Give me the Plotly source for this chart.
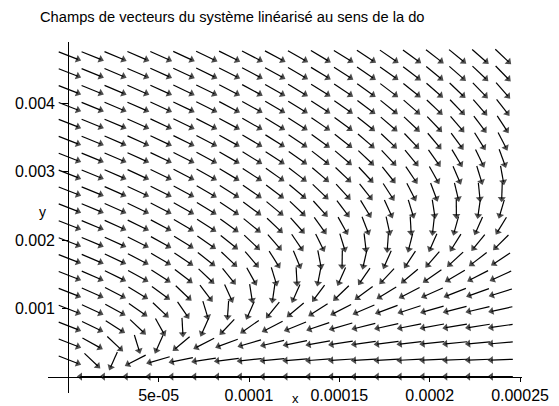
import numpy as np
import plotly.graph_objects as go

# Linearised system:  x' = a11*x + a12*y ,  y' = a22*y
a11 = -1.0
a12 = 0.087
a22 = -0.9

# Grid of arrow centres (20 x 20)
x_grid = np.linspace(0.0, 0.00024, 20)
y_grid = np.linspace(0.0, 0.0047, 20)

x_ticks = [5e-05, 0.0001, 0.00015, 0.0002, 0.00025]
x_tick_labels = ["5e-05", "0.0001", "0.00015", "0.0002", "0.00025"]
y_ticks = [0.001, 0.002, 0.003, 0.004]
y_tick_labels = ["0.001", "0.002", "0.003", "0.004"]

title_text = "Champs de vecteurs du système linéarisé au sens de la do"

# Visible window of the axes
x_min, x_max = -1.1234e-05, 2.5108e-04
y_min, y_max = -2.401e-04, 4.899e-03

hx = x_grid[1] - x_grid[0]
hy = y_grid[1] - y_grid[0]
arrow_len = 0.95  # arrow length, in grid cells

xs, ys, sizes = [], [], []
for xv in x_grid:
    for yv in y_grid:
        u = a11 * xv + a12 * yv
        v = a22 * yv
        cu, cv = u / hx, v / hy
        n = np.hypot(cu, cv)
        if n == 0:
            continue
        du = cu / n * arrow_len / 2 * hx
        dv = cv / n * arrow_len / 2 * hy
        xs += [xv - du, xv + du, None]
        ys += [yv - dv, yv + dv, None]
        sizes += [0, 7, 0]

fig = go.Figure()
fig.add_trace(go.Scatter(
    x=xs, y=ys,
    mode="lines+markers",
    line=dict(color="black", width=1.2),
    marker=dict(symbol="triangle-up", size=sizes, color="black",
                angleref="previous", line=dict(width=0)),
    hoverinfo="skip",
    showlegend=False,
))

tick_font = dict(family="Liberation Sans, Arial, sans-serif", size=16, color="black")

fig.update_layout(
    width=559, height=406,
    margin=dict(l=48, r=37, t=42, b=13),
    paper_bgcolor="white", plot_bgcolor="white",
    xaxis=dict(
        range=[x_min, x_max], anchor="free", automargin=False,
        position=(0 - y_min) / (y_max - y_min),
        showline=True, linecolor="black", linewidth=1.3,
        showgrid=False, zeroline=False,
        ticks="outside", ticklen=4, tickcolor="black", tickwidth=1,
        ticklabelstandoff=0,
        tickvals=x_ticks, ticktext=x_tick_labels, tickfont=tick_font,
    ),
    yaxis=dict(
        range=[y_min, y_max], anchor="free", automargin=False,
        position=(0 - x_min) / (x_max - x_min),
        showline=True, linecolor="black", linewidth=1.3,
        showgrid=False, zeroline=False,
        ticks="outside", ticklen=6, tickcolor="black", tickwidth=1,
        ticklabelstandoff=4,
        tickvals=y_ticks, ticktext=y_tick_labels, tickfont=tick_font,
    ),
    annotations=[
        dict(text=title_text, xref="paper", yref="paper",
             x=(232 - 48) / 474, y=1 + (42 - 17) / 351,
             xanchor="center", yanchor="middle", showarrow=False,
             font=dict(family="Liberation Sans, Arial, sans-serif",
                       size=14.7, color="black")),
        dict(text="x", xref="paper", yref="paper",
             x=(295 - 48) / 474, y=-(398 - 393) / 351,
             xanchor="center", yanchor="middle", showarrow=False,
             font=dict(family="Liberation Sans, Arial, sans-serif", size=13, color="black")),
        dict(text="y", xref="paper", yref="paper",
             x=-(48 - 42) / 474, y=(393 - 212) / 351,
             xanchor="center", yanchor="middle", showarrow=False,
             font=dict(family="Liberation Sans, Arial, sans-serif", size=14, color="black")),
    ],
)

fig.write_html("out.html")
